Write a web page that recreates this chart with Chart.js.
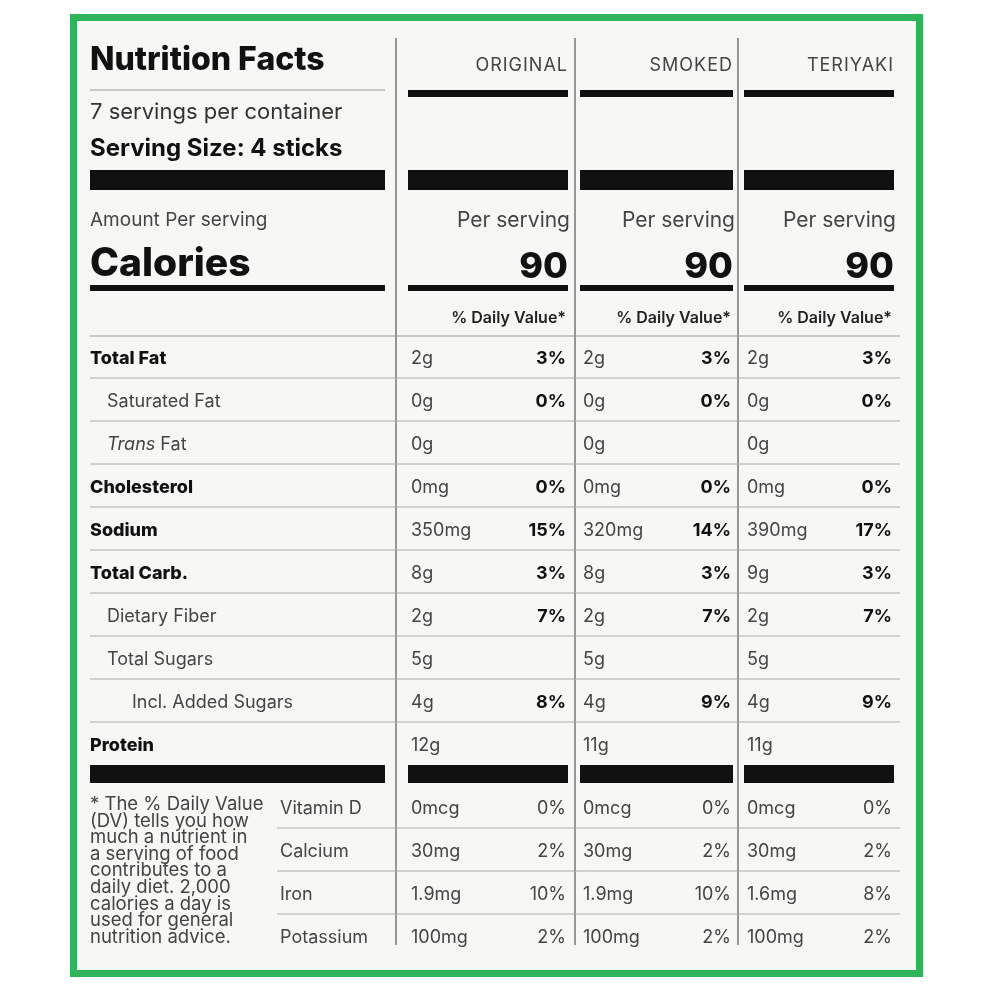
<!DOCTYPE html>
<html><head><meta charset="utf-8">
<script src="https://cdn.jsdelivr.net/npm/chart.js@4/dist/chart.umd.min.js"></script>
<style>html,body{margin:0;padding:0;background:#fff}#wrap{width:991px;height:991px}</style>
</head><body><div id="wrap"><canvas id="c" width="991" height="991"></canvas></div>
<script>
const products = ["ORIGINAL", "SMOKED", "TERIYAKI"];
const calories = [90, 90, 90];
const nutrients = ["Total Fat", "Saturated Fat", "Trans Fat", "Cholesterol", "Sodium", "Total Carb.", "Dietary Fiber", "Total Sugars", "Incl. Added Sugars", "Protein"];
const nutrientBold = [true, false, false, true, true, true, false, false, false, true];
const nutrientIndent = [0, 1, 1, 0, 0, 0, 1, 1, 2, 0];
const amountsOriginal = ["2g", "0g", "0g", "0mg", "350mg", "8g", "2g", "5g", "4g", "12g"];
const amountsSmoked = ["2g", "0g", "0g", "0mg", "320mg", "8g", "2g", "5g", "4g", "11g"];
const amountsTeriyaki = ["2g", "0g", "0g", "0mg", "390mg", "9g", "2g", "5g", "4g", "11g"];
const dvOriginal = ["3%", "0%", "", "0%", "15%", "3%", "7%", "", "8%", ""];
const dvSmoked = ["3%", "0%", "", "0%", "14%", "3%", "7%", "", "9%", ""];
const dvTeriyaki = ["3%", "0%", "", "0%", "17%", "3%", "7%", "", "9%", ""];
const vitamins = ["Vitamin D", "Calcium", "Iron", "Potassium"];
const vitOriginal = ["0mcg", "30mg", "1.9mg", "100mg"];
const vitSmoked = ["0mcg", "30mg", "1.9mg", "100mg"];
const vitTeriyaki = ["0mcg", "30mg", "1.6mg", "100mg"];
const vitDvOriginal = ["0%", "2%", "10%", "2%"];
const vitDvSmoked = ["0%", "2%", "10%", "2%"];
const vitDvTeriyaki = ["0%", "2%", "8%", "2%"];
const footnote = ["* The % Daily Value", "(DV) tells you how", "much a nutrient in", "a serving of food", "contributes to a", "daily diet. 2,000", "calories a day is", "used for general", "nutrition advice."];

const amounts = [amountsOriginal, amountsSmoked, amountsTeriyaki];
const dvs = [dvOriginal, dvSmoked, dvTeriyaki];
const vitAmts = [vitOriginal, vitSmoked, vitTeriyaki];
const vitDvs = [vitDvOriginal, vitDvSmoked, vitDvTeriyaki];

// column extents [left, right]
const cols = [[408, 568], [580, 733], [744, 894]];
const F = "Inter, 'Open Sans', sans-serif";

const labelPlugin = {
    id: "label",
    afterDraw(chart) {
        const ctx = chart.ctx;
        const xs = chart.scales.x, ys = chart.scales.y;
        const X = (v) => xs.getPixelForValue(v);
        const Y = (v) => ys.getPixelForValue(v);
        const rect = (x0, y0, x1, y1, c) => { ctx.fillStyle = c; ctx.fillRect(X(x0), Y(y0), X(x1) - X(x0), Y(y1) - Y(y0)); };
        const line = (x0, y0, x1, y1, c, w) => { ctx.strokeStyle = c; ctx.lineWidth = w; ctx.beginPath(); ctx.moveTo(X(x0), Y(y0)); ctx.lineTo(X(x1), Y(y1)); ctx.stroke(); };
        const text = (s, x, y, font, align, c) => { ctx.font = font; ctx.textAlign = align || "left"; ctx.fillStyle = c || "#222"; ctx.textBaseline = "alphabetic"; ctx.fillText(s, X(x), Y(y)); };

        ctx.save();
        rect(0, 0, 991, 991, "#ffffff");
        rect(70, 14, 923, 977, "#2fb45c");
        rect(77, 21, 916, 970, "#f7f7f5");

        // vertical column dividers
        [396, 575, 738].forEach((x) => line(x, 38, x, 945, "#777", 1.5));

        // left header
        text("Nutrition Facts", 90, 70, "800 32px " + F, "left", "#111");
        line(90, 90, 385, 90, "#999", 1);
        text("7 servings per container", 90, 119, "400 22px " + F, "left", "#333");
        text("Serving Size: 4 sticks", 90, 156, "700 24px " + F, "left", "#111");
        rect(90, 170, 385, 190, "#111");
        text("Amount Per serving", 90, 226, "400 19px " + F, "left", "#444");
        text("Calories", 90, 276, "800 39px " + F, "left", "#111");
        rect(90, 285, 385, 291, "#111");
        line(90, 336, 900, 336, "#999", 1);

        // product columns
        products.forEach((p, i) => {
            const [l, r] = cols[i];
            ctx.letterSpacing = "1px";
            text(p, r, 71, "400 18px " + F, "right", "#444");
            ctx.letterSpacing = "0px";
            rect(l, 90, r, 97, "#111");
            rect(l, 170, r, 190, "#111");
            text("Per serving", r + 2, 227, "400 21px " + F, "right", "#444");
            text(String(calories[i]), r, 278, "800 36px " + F, "right", "#111");
            rect(l, 285, r, 291, "#111");
            text("% Daily Value*", r - 2, 323, "600 16px " + F, "right", "#222");
        });

        // nutrient rows
        nutrients.forEach((n, k) => {
            const yb = 364 + 43 * k;
            const indent = [90, 107, 132][nutrientIndent[k]];
            if (n === "Trans Fat") {
                text("Trans", indent, yb, "italic 400 18px " + F, "left", "#444");
                ctx.font = "italic 400 18px " + F;
                const w = ctx.measureText("Trans ").width;
                text("Fat", indent + w, yb, "400 18px " + F, "left", "#444");
            } else {
                text(n, indent, yb, (nutrientBold[k] ? "800 " : "400 ") + "18px " + F, "left", nutrientBold[k] ? "#111" : "#444");
            }
            cols.forEach(([l, r], i) => {
                text(amounts[i][k], l + 3, yb, "400 18px " + F, "left", "#444");
                if (dvs[i][k]) text(dvs[i][k], r - 2, yb, "700 18px " + F, "right", "#111");
            });
            if (k < nutrients.length - 1) line(90, 378 + 43 * k, 900, 378 + 43 * k, "#aaa", 1);
        });

        // lower black bars
        rect(90, 765, 385, 783, "#111");
        cols.forEach(([l, r]) => rect(l, 765, r, 783, "#111"));

        // footnote
        footnote.forEach((s, k) => text(s, 90, 810 + 16.6 * k, "400 18.5px " + F, "left", "#444"));

        // vitamins
        vitamins.forEach((v, k) => {
            const yb = 814 + 43 * k;
            text(v, 280, yb, "400 18px " + F, "left", "#444");
            cols.forEach(([l, r], i) => {
                text(vitAmts[i][k], l + 3, yb, "400 18px " + F, "left", "#444");
                text(vitDvs[i][k], r - 2, yb, "400 18px " + F, "right", "#444");
            });
            if (k < vitamins.length - 1) line(277, 828 + 43 * k, 900, 828 + 43 * k, "#aaa", 1);
        });
        ctx.restore();
    },
};

new Chart(document.getElementById("c"), {
    type: "scatter",
    data: { datasets: [{ data: [], pointRadius: 0 }] },
    options: {
        responsive: false,
        devicePixelRatio: 1,
        animation: false,
        layout: { padding: 0 },
        plugins: { legend: { display: false }, tooltip: { enabled: false } },
        scales: {
            x: { type: "linear", min: 0, max: 991, display: false },
            y: { type: "linear", min: 0, max: 991, reverse: true, display: false },
        },
    },
    plugins: [labelPlugin],
});
</script>
</body></html>
